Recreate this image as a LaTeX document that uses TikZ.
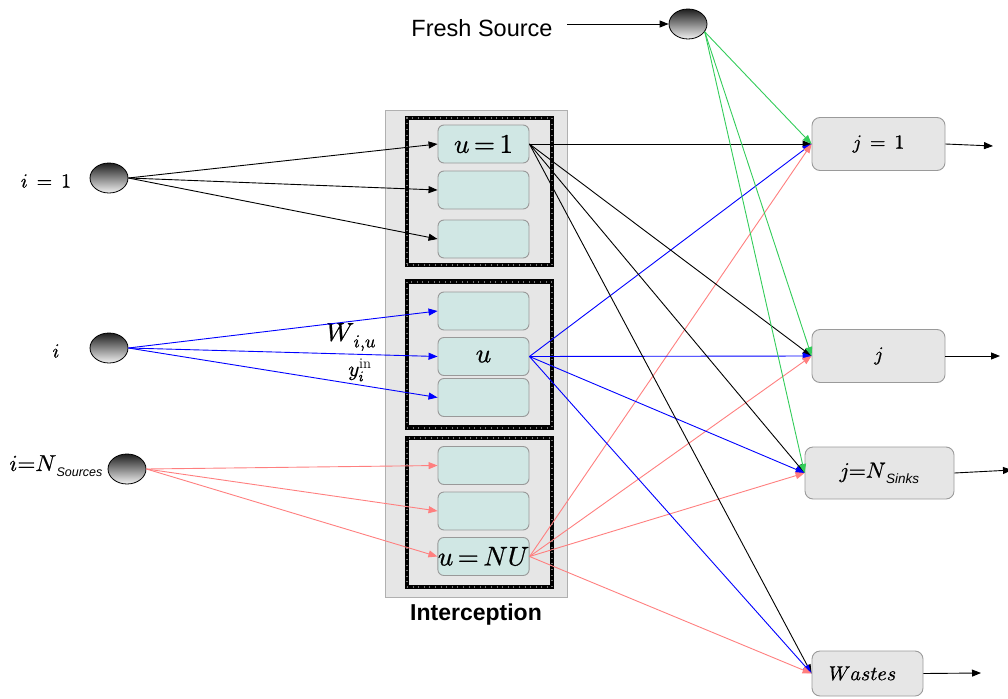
\documentclass[tikz,border=0pt]{standalone}
\usepackage{fontspec}
\usepackage{unicode-math}
\setmathfont{Latin Modern Math}[FakeBold=0.8]
\newfontfamily\lsans{Liberation Sans}
\usetikzlibrary{arrows.meta,shapes.geometric}
\definecolor{panelgray}{HTML}{E6E6E6}
\definecolor{panelline}{HTML}{B0B0B0}
\definecolor{unitfill}{HTML}{D0E7E4}
\definecolor{unitline}{HTML}{999999}
\definecolor{sinkline}{HTML}{9A9A9A}
\definecolor{flowred}{HTML}{FF7F7F}
\definecolor{flowgreen}{HTML}{33CC5A}
\definecolor{flowblue}{HTML}{0000FF}
\tikzset{
  src/.style={ellipse, draw=black, line width=0.8pt, minimum width=38pt, minimum height=30pt,
    inner sep=0pt, top color=black!88, bottom color=black!5},
  unitbox/.style={rectangle, rounded corners=6pt, draw=unitline, line width=0.9pt, fill=unitfill,
    minimum width=91pt, minimum height=38pt, inner sep=0pt},
  groupbox/.style={rectangle, draw=black, line width=4.5pt, minimum width=145pt, inner sep=0pt,
    postaction={draw=black!55, line width=2pt, dash pattern=on 0.6pt off 5pt}},
  sinkbox/.style={rectangle, rounded corners=8pt, draw=sinkline, line width=0.9pt, fill=panelgray,
    minimum height=53pt, inner sep=0pt},
  flow/.style={line width=0.9pt, -{Triangle[length=9pt,width=7pt]}},
  mtext/.style={font=\fontsize{20}{24}\selectfont},
  utext/.style={font=\fontsize{27}{30}\selectfont},
}
\begin{document}
\begin{tikzpicture}[x=1pt,y=-1pt]
\useasboundingbox (0,0) rectangle (1008,698);

% interception panel with its three groups of units
\node[rectangle, draw=panelline, line width=0.9pt, fill=panelgray, minimum width=182pt,
  minimum height=487pt, inner sep=0pt] (icpt) at (476,353.5) {};
\node[font=\lsans\bfseries\fontsize{23}{26}\selectfont] (icptlabel) at (476,615) {Interception};

\node[groupbox, minimum height=147pt] (g1) at (479.5,191.5) {};
\node[groupbox, minimum height=146pt] (g2) at (479.5,354.5) {};
\node[groupbox, minimum height=149pt] (g3) at (479.5,512.5) {};

\node[unitbox, utext] (u1)  at (483.5,144)   {$u\,{=}\,1$};
\node[unitbox]        (u1b) at (483.5,190)   {};
\node[unitbox]        (u1c) at (483.5,239)   {};
\node[unitbox]        (u2a) at (483.5,311)   {};
\node[unitbox, utext] (u)   at (483.5,356.5) {$u$};
\node[unitbox]        (u2c) at (483.5,397.5) {};
\node[unitbox]        (u3a) at (483.5,465.5) {};
\node[unitbox]        (u3b) at (483.5,511)   {};
\node[unitbox, utext] (unu) at (483.5,556.5) {$u\,{=}\,NU$};

% sources
\node[src] (s1)    at (109,178) {};
\node[src] (si)    at (109,348) {};
\node[src] (sn)    at (127,469) {};
\node[src] (fresh) at (688,24)  {};

\node[mtext] (s1label) at (46,181) {$i\,=\,1$};
\node[mtext] (silabel) at (56,351) {$i$};
\node[font=\fontsize{23}{26}\selectfont, anchor=west] (snlabel) at (6,466)
  {$i{=}N_{\,\mbox{\fontsize{12.5}{14}\lsans\itshape Sources}}$};
\node[font=\lsans\fontsize{23.5}{26}\selectfont] (freshlabel) at (482,28) {Fresh Source};
\coordinate (fs) at (567,24);

% sinks
\node[sinkbox, minimum width=133pt, mtext] (j1)     at (878.5,144) {$j\,=\,1$};
\node[sinkbox, minimum width=133pt, mtext] (j)      at (878.5,356) {$j$};
\node[sinkbox, minimum width=149pt, minimum height=52pt, font=\fontsize{22}{26}\selectfont]
  (jn) at (879.5,473) {$j{=}N_{\,\mbox{\fontsize{13.5}{14}\lsans\itshape Sinks}}$};
\node[sinkbox, minimum width=111pt, minimum height=45pt, mtext] (wastes) at (867.5,673.5)
  {$\symit{Wastes}$\hspace*{10pt}};

\coordinate (o1) at (993,146);
\coordinate (oj) at (1000,356);
\coordinate (on) at (1012,470);
\coordinate (ow) at (981,673);

% flow labels
\node[font=\fontsize{26}{26}\selectfont] (wlabel) at (351,337) {$W_{\,i,u}$};
\node[font=\fontsize{21}{24}\selectfont] (ylabel) at (360,370) {$y_i^{\mathrm{in}}$};

% fresh water feed
\draw[flow, black] (fs) -- (fresh.west);

% source to unit flows
\foreach \t in {u1,u1b,u1c} \draw[flow, black] (s1.east) -- (\t.west);
\foreach \t in {u2a,u,u2c} \draw[flow, flowblue] (si.east) -- (\t.west);
\foreach \t in {u3a,u3b,unu} \draw[flow, flowred] (sn.east) -- (\t.west);

% unit to sink flows
\foreach \t in {j1,j,jn,wastes} {
  \draw[flow, black]     (u1.east)  -- (\t.west);
  \draw[flow, flowblue]  (u.east)   -- (\t.west);
  \draw[flow, flowred]   (unu.east) -- (\t.west);
}
\foreach \t in {j1,j,jn} \draw[flow, flowgreen] (fresh.-25) -- (\t.west);

% sink outlets
\draw[flow, black] (j1.east) -- (o1);
\draw[flow, black] (j.east) -- (oj);
\draw[flow, black] (jn.east) -- (on);
\draw[flow, black] (wastes.east) -- (ow);
\end{tikzpicture}
\end{document}
